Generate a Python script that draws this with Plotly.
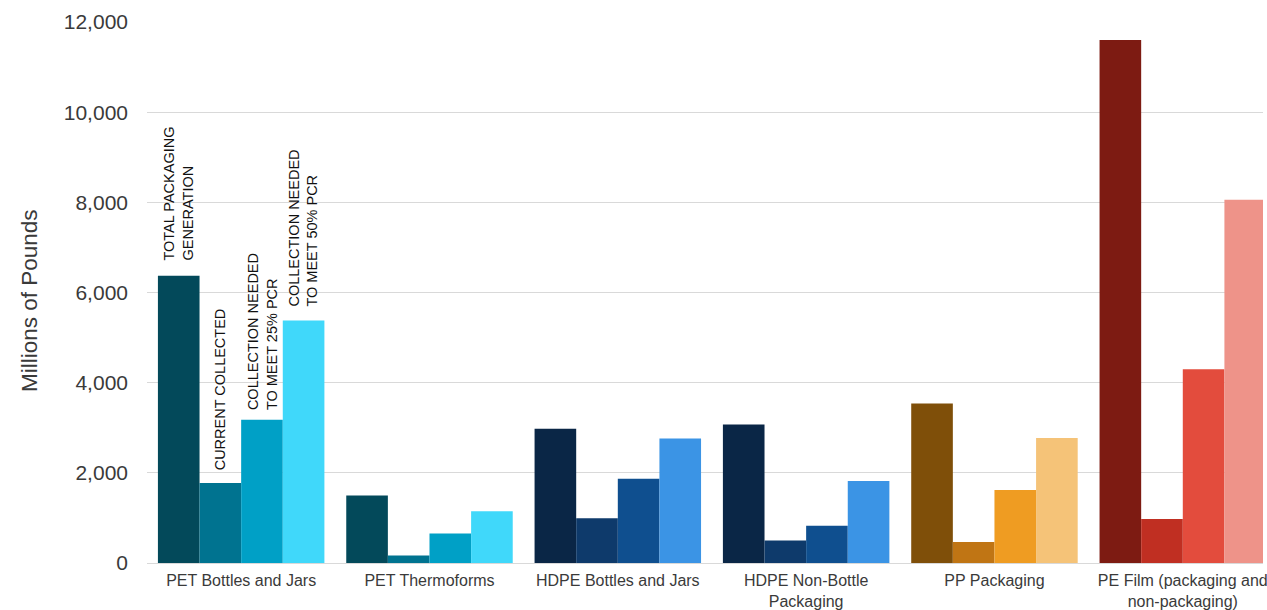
import plotly.graph_objects as go

categories = ["PET Bottles and Jars", "PET Thermoforms", "HDPE Bottles and Jars",
              "HDPE Non-Bottle<br>Packaging", "PP Packaging",
              "PE Film (packaging and<br>non-packaging)"]
series_names = ["Total Packaging Generation", "Current Collected",
                "Collection Needed to Meet 25% PCR", "Collection Needed to Meet 50% PCR"]
total_generation = [6370, 1500, 2980, 3070, 3540, 11600]
current_collected = [1775, 165, 995, 500, 465, 975]
needed_25 = [3180, 655, 1870, 825, 1620, 4300]
needed_50 = [5380, 1150, 2760, 1820, 2775, 8060]
bar_labels = ["TOTAL PACKAGING<br>GENERATION", "CURRENT COLLECTED",
              "COLLECTION NEEDED<br>TO MEET 25% PCR", "COLLECTION NEEDED<br>TO MEET 50% PCR"]
y_title = "Millions of Pounds"

# colour per category (rows) per series (cols)
palette = [
    ["#03495A", "#007390", "#00A0C6", "#40D8FA"],
    ["#03495A", "#007390", "#00A0C6", "#40D8FA"],
    ["#0A2646", "#0E3A6B", "#0F4F8F", "#3B94E5"],
    ["#0A2646", "#0E3A6B", "#0F4F8F", "#3B94E5"],
    ["#7F4F09", "#C07514", "#EF9C22", "#F5C378"],
    ["#7D1B12", "#C02F22", "#E34C3D", "#EE9389"],
]

all_series = [total_generation, current_collected, needed_25, needed_50]
bargap = 0.116

fig = go.Figure()
for i, (name, vals) in enumerate(zip(series_names, all_series)):
    fig.add_trace(go.Bar(
        x=list(range(len(categories))), y=vals, name=name,
        marker=dict(color=[row[i] for row in palette], line=dict(width=0)),
    ))

bar_w = (1 - bargap) / 4
label_shift = [15, 13, 10, 14]
for i, (lab, vals) in enumerate(zip(bar_labels, all_series)):
    fig.add_annotation(
        x=0 + (i - 1.5) * bar_w, y=vals[0], xref="x", yref="y",
        text=lab, textangle=-90, showarrow=False, align="left",
        xanchor="center", yanchor="bottom", yshift=label_shift[i] - 2,
        font=dict(family="Arial, Liberation Sans, sans-serif", size=14.5, color="#111111"),
    )

fig.add_annotation(
    x=0, y=0.5, xref="paper", yref="paper", xshift=-147 + 15, yshift=-8,
    text=y_title, textangle=-90, showarrow=False, xanchor="left", yanchor="middle",
    font=dict(family="Arial, Liberation Sans, sans-serif", size=22.5, color="#3A3A3A"),
)

fig.update_layout(
    width=1267, height=610,
    margin=dict(l=147, r=0, t=22, b=42),
    barmode="group", bargap=bargap, bargroupgap=0,
    plot_bgcolor="white", paper_bgcolor="white",
    showlegend=False,
    font=dict(family="Arial, Liberation Sans, sans-serif", color="#3A3A3A"),
)
fig.update_xaxes(
    tickmode="array", tickvals=list(range(len(categories))), ticktext=categories,
    range=[-0.5, -0.5 + 1120 / 189], showgrid=False, showline=False, zeroline=False,
    tickfont=dict(size=16, color="#3A3A3A"), ticklabelstandoff=6,
    ticklabeloverflow="allow",
)
fig.update_yaxes(
    range=[0, 12000], dtick=2000, tickformat=",", showgrid=True, gridcolor="#D9D9D9",
    gridwidth=1, zeroline=True, zerolinecolor="#D9D9D9", zerolinewidth=1, showline=False,
    tickfont=dict(size=21, color="#3A3A3A"), ticklabelstandoff=18,
)
fig.write_html(
    "out.html",
    config={"displayModeBar": False},
    post_script=(
        "var s=document.body.style;s.margin='0';s.padding='0';s.fontSize='0';"
        "s.lineHeight='0';s.overflow='hidden';"
        "document.documentElement.style.overflow='hidden';"
    ),
)
